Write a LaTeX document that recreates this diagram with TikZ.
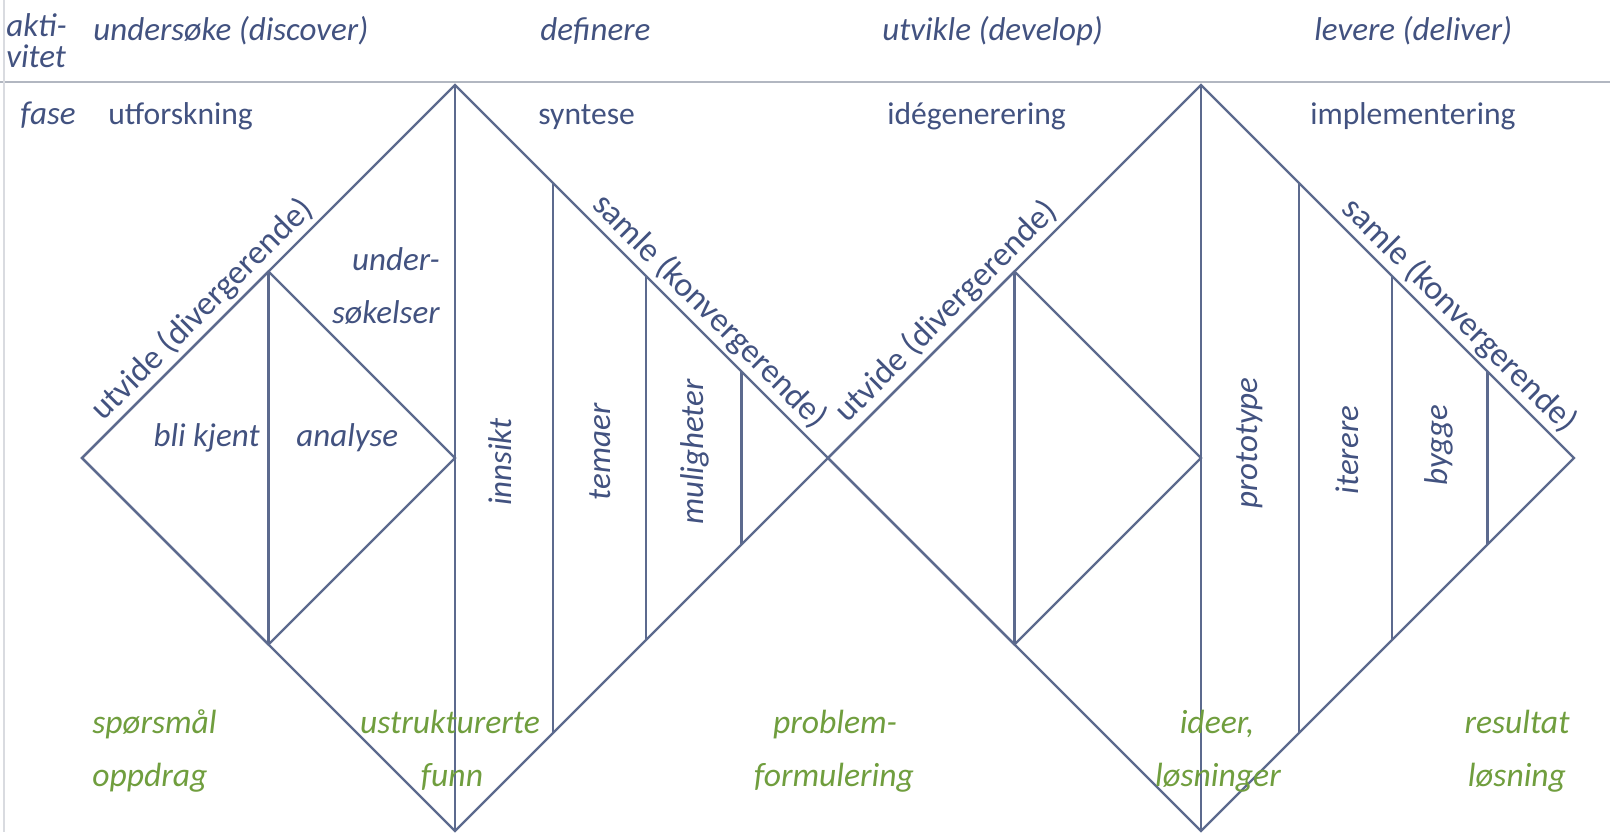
\documentclass[tikz,border=0pt]{standalone}
\usepackage{fontspec}
\setmainfont{Carlito}
\usetikzlibrary{calc}
\definecolor{txtblue}{RGB}{66,82,128}
\definecolor{lineblue}{RGB}{92,106,142}
\definecolor{grn}{RGB}{112,158,62}
\definecolor{rulegray}{RGB}{178,183,193}
\newcommand\dfsz{\fontsize{15.8}{15.8}\selectfont}
\newcommand\hfsz{\fontsize{16.5}{16.5}\selectfont}
\newcommand\efsz{\fontsize{17}{17}\selectfont}
\newcommand\gfsz{\fontsize{16.8}{16.8}\selectfont}
\begin{document}
\begin{tikzpicture}[x=0.5pt,y=-0.5pt,
  ln/.style={draw=lineblue,line width=1.1pt},
  rulel/.style={draw=rulegray,line width=0.9pt},
  hd/.style={text=txtblue,font=\hfsz\itshape,inner sep=0pt,anchor=base west},
  ph/.style={text=txtblue,font=\dfsz,inner sep=0pt,anchor=base west},
  il/.style={text=txtblue,font=\hfsz\itshape,inner sep=0pt},
  rl/.style={text=txtblue,font=\hfsz\itshape,inner sep=0pt,rotate=90},
  el/.style={text=txtblue,font=\efsz,inner sep=2pt,sloped,above},
  gl/.style={text=grn,font=\gfsz\itshape,inner sep=0pt,anchor=base}]
\useasboundingbox (0,0) rectangle (1610,832);
\fill[white] (0,0) rectangle (1610,832);
% table rules
\coordinate (hl) at (0,82); \coordinate (hr) at (1610,82);
\draw[rulel] (hl) -- (hr);
\coordinate (vt) at (4,0); \coordinate (vb) at (4,832);
\draw[draw=rulegray!50,line width=0.6pt] (vt) -- (vb);
% diamond 1
\coordinate (L1) at (82,458); \coordinate (T1) at (455,85);
\coordinate (R1) at (828,458); \coordinate (B1) at (455,831);
\coordinate (C1) at (455,458);
\coordinate (IT1) at ($(L1)!0.5!(T1)$); \coordinate (IB1) at ($(L1)!0.5!(B1)$);
% diamond 2
\coordinate (T2) at (1201,85); \coordinate (R2) at (1574,458);
\coordinate (B2) at (1201,831); \coordinate (C2) at (1201,458);
\coordinate (IT2) at ($(R1)!0.5!(T2)$); \coordinate (IB2) at ($(R1)!0.5!(B2)$);
\draw[ln] (L1) -- (T1) -- (R1) -- (B1) -- cycle;
\draw[ln] (L1) -- (IT1) -- (C1) -- (IB1) -- cycle;
\draw[ln] (T1) -- (B1);
\draw[ln] (IT1) -- (IB1);
\draw[ln] (R1) -- (T2) -- (R2) -- (B2) -- cycle;
\draw[ln] (R1) -- (IT2) -- (C2) -- (IB2) -- cycle;
\draw[ln] (T2) -- (B2);
\draw[ln] (IT2) -- (IB2);
\foreach \f [count=\i] in {0.262,0.512,0.768}{
  \coordinate (a\i) at ($(T1)!\f!(R1)$); \coordinate (b\i) at ($(B1)!\f!(R1)$);
  \draw[ln] (a\i) -- (b\i);
  \coordinate (c\i) at ($(T2)!\f!(R2)$); \coordinate (d\i) at ($(B2)!\f!(R2)$);
  \draw[ln] (c\i) -- (d\i);
}
% edge labels
\path (L1) -- (T1) node[el,pos=0.36] (ut1) {utvide (divergerende)};
\path (T1) -- (R1) node[el,pos=0.645] (sa1) {samle (konvergerende)};
\path (R1) -- (T2) node[el,pos=0.355] (ut2) {utvide (divergerende)};
\path (T2) -- (R2) node[el,pos=0.655] (sa2) {samle (konvergerende)};
% header
\node[hd] (akti) at (6,36) {akti-};
\node[hd] (vitet) at (6,67) {vitet};
\node[hd] (h1) at (93,40) {undersøke (discover)};
\node[hd] (h2) at (540,40) {definere};
\node[hd] (h3) at (882,40) {utvikle (develop)};
\node[hd] (h4) at (1314,40) {levere (deliver)};
\node[hd] (fase) at (20,124) {fase};
\node[ph] (p1) at (108,124) {utforskning};
\node[ph] (p2) at (538,124) {syntese};
\node[ph] (p3) at (887,124) {idégenerering};
\node[ph] (p4) at (1310,124) {implementering};
% inner labels
\node[il,anchor=base east] (und1) at (440,270) {under-};
\node[il,anchor=base east] (und2) at (440,323) {søkelser};
\node[il,anchor=base east] (blik) at (260,446) {bli kjent};
\node[il,anchor=base west] (anal) at (296,446) {analyse};
\node[rl] (innsikt) at (500,462) {innsikt};
\node[rl] (temaer) at (600,452) {temaer};
\node[rl] (mulig) at (695,452) {muligheter};
\node[rl] (proto) at (1250,443) {prototype};
\node[rl] (iter) at (1347,450) {iterere};
\node[rl] (bygge) at (1439,445) {bygge};
% green outcomes
\node[gl,anchor=base west] (g1a) at (92,733) {spørsmål};
\node[gl,anchor=base west] (g1b) at (92,786) {oppdrag};
\node[gl] (g2a) at (450,733) {ustrukturerte};
\node[gl] (g2b) at (452,786) {funn};
\node[gl] (g3a) at (835,733) {problem-};
\node[gl] (g3b) at (834,786) {formulering};
\node[gl] (g4a) at (1217,733) {ideer,};
\node[gl] (g4b) at (1218,786) {løsninger};
\node[gl] (g5a) at (1517,733) {resultat};
\node[gl] (g5b) at (1517,786) {løsning};
\end{tikzpicture}
\end{document}
